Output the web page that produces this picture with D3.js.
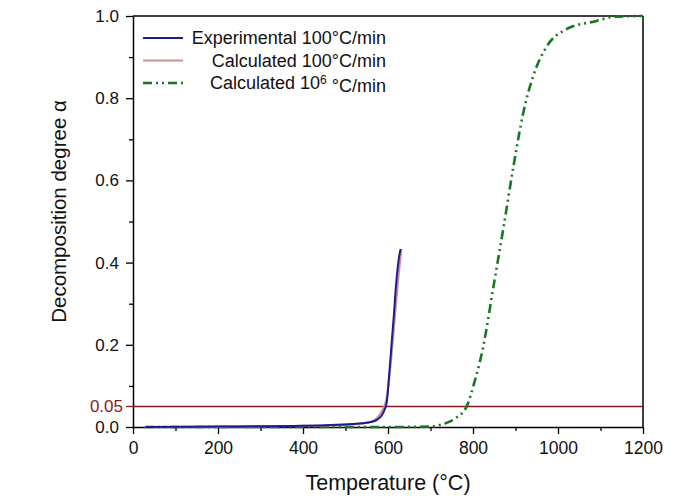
<!DOCTYPE html>
<html>
<head>
<meta charset="utf-8">
<script src="https://cdn.jsdelivr.net/npm/d3@7"></script>
<style>
  body { margin: 0; background: #fff; }
  svg text { font-family: "Liberation Sans", Arial, sans-serif; }
</style>
</head>
<body>
<div id="chart"></div>
<script>
// data
const expT     = [30, 200, 400, 500, 540, 560, 575, 585, 592, 597, 603, 609, 614, 618, 622, 625, 628, 630];
const expA     = [0, 0.001, 0.003, 0.006, 0.009, 0.012, 0.018, 0.028, 0.042, 0.06, 0.13, 0.21, 0.275, 0.333, 0.38, 0.406, 0.425, 0.433];
const calcT    = [30, 200, 400, 500, 540, 560, 572, 582, 590, 597, 605, 612, 618, 622, 626, 629, 631];
const calcA    = [0, 0.001, 0.003, 0.006, 0.009, 0.013, 0.02, 0.032, 0.048, 0.07, 0.14, 0.22, 0.29, 0.338, 0.382, 0.41, 0.433];
const fastT    = [28, 300, 600, 700, 722, 738, 760, 785, 805, 824, 848, 872, 895, 918, 942, 973, 1020, 1091, 1130, 1200];
const fastA    = [0, 0, 0, 0.001, 0.005, 0.01, 0.022, 0.05, 0.115, 0.195, 0.341, 0.487, 0.633, 0.763, 0.855, 0.925, 0.968, 0.988, 0.998, 1.0];
const threshold = 0.05;
const xTicks = [0, 200, 400, 600, 800, 1000, 1200];
const yTicks = [0, 0.2, 0.4, 0.6, 0.8, 1.0];

const seriesNames = ["Experimental 100\u00B0C/min", "Calculated 100\u00B0C/min", "Calculated 10"];

const W = 675, H = 496;
const margin = {top: 16, right: 32, bottom: 69, left: 133};
const width = W - margin.left - margin.right;
const height = H - margin.top - margin.bottom;

const svg = d3.select("#chart").append("svg")
  .attr("width", W).attr("height", H);
const g = svg.append("g")
  .attr("transform", `translate(${margin.left},${margin.top})`);

const x = d3.scaleLinear().domain([0, 1200]).range([0, width]);
const y = d3.scaleLinear().domain([0, 1]).range([height, 0]);

// minor ticks
const xMinor = d3.range(100, 1200, 200);
const yMinor = d3.range(0.1, 1, 0.2);

g.append("g").attr("transform", `translate(0,${height})`)
  .call(d3.axisBottom(x).tickValues(xMinor).tickSize(4).tickFormat(""))
  .call(a => a.select(".domain").remove())
  .selectAll("line").attr("stroke-width", 1.3);
g.append("g")
  .call(d3.axisLeft(y).tickValues(yMinor).tickSize(4).tickFormat(""))
  .call(a => a.select(".domain").remove())
  .selectAll("line").attr("stroke-width", 1.3);

const xAxis = g.append("g").attr("transform", `translate(0,${height})`)
  .call(d3.axisBottom(x).tickValues(xTicks).tickSize(7).tickSizeOuter(0).tickPadding(8).tickFormat(d3.format("d")));
xAxis.selectAll("text").attr("font-size", 17.5).attr("fill", "#111");
const yAxis = g.append("g")
  .call(d3.axisLeft(y).tickValues(yTicks).tickSize(7).tickSizeOuter(0).tickPadding(7).tickFormat(d3.format(".1f")));
yAxis.selectAll("text").attr("font-size", 17).attr("fill", "#111");
[xAxis, yAxis].forEach(a => {
  a.select(".domain").attr("stroke-width", 1.5);
  a.selectAll("line").attr("stroke-width", 1.3);
});

// frame top / right
g.append("line").attr("x1", 0).attr("x2", width).attr("y1", 0).attr("y2", 0)
  .attr("stroke", "#000").attr("stroke-width", 1.5);
g.append("line").attr("x1", width).attr("x2", width).attr("y1", 0).attr("y2", height)
  .attr("stroke", "#000").attr("stroke-width", 1.5);

// threshold line
const red = "#8b1a1a";
g.append("line")
  .attr("x1", x(0)).attr("x2", x(1200))
  .attr("y1", y(threshold)).attr("y2", y(threshold))
  .attr("stroke", red).attr("stroke-width", 1.4);
g.append("line")
  .attr("x1", -7).attr("x2", 0)
  .attr("y1", y(threshold)).attr("y2", y(threshold))
  .attr("stroke", red).attr("stroke-width", 1.3);
g.append("text")
  .attr("x", -10).attr("y", y(threshold)).attr("dy", "0.34em")
  .attr("text-anchor", "end").attr("font-size", 17).attr("fill", red)
  .text("0.05");

const line = d3.line().x(d => x(d[0])).y(d => y(d[1])).curve(d3.curveMonotoneX);

const series = [
  {T: fastT, A: fastA, color: "#17761f", width: 2.6, dash: "9,4,2,4,2,4"},
  {T: calcT, A: calcA, color: "#c99393", width: 2.2, dash: null},
  {T: expT,  A: expA,  color: "#1c1c8f", width: 2,   dash: null}
];
series.forEach(s => {
  g.append("path")
    .datum(s.T.map((t, i) => [t, s.A[i]]))
    .attr("fill", "none")
    .attr("stroke", s.color)
    .attr("stroke-width", s.width)
    .attr("stroke-dasharray", s.dash)
    .attr("d", line);
});

// legend
const legend = g.append("g").attr("transform", "translate(10,22)");
const legendItems = [
  {color: "#1c1c8f", dash: null, w: 2},
  {color: "#c99393", dash: null, w: 2.2},
  {color: "#17761f", dash: "9,4,2,4,2,4", w: 2.6}
];
legendItems.forEach((d, i) => {
  const yy = i * 22.5;
  legend.append("line")
    .attr("x1", 0).attr("x2", 40).attr("y1", yy).attr("y2", yy)
    .attr("stroke", d.color).attr("stroke-width", d.w)
    .attr("stroke-dasharray", d.dash);
  const t = legend.append("text")
    .attr("x", 243).attr("y", yy).attr("dy", "0.35em")
    .attr("text-anchor", "end").attr("font-size", 18).attr("fill", "#111");
  if (i < 2) {
    t.text(seriesNames[i]);
  } else {
    t.append("tspan").text(seriesNames[i]);
    t.append("tspan").attr("dy", "-0.45em").attr("font-size", 12).text("6");
    t.append("tspan").attr("dy", "0.45em").text(" \u00B0C/min");
  }
});

// axis titles
g.append("text")
  .attr("x", width / 2).attr("y", height + 63)
  .attr("text-anchor", "middle").attr("font-size", 21.5).attr("fill", "#111")
  .text("Temperature (\u00B0C)");
g.append("text")
  .attr("transform", `translate(-67,${height / 2 - 10}) rotate(-90)`)
  .attr("text-anchor", "middle").attr("font-size", 20.5).attr("fill", "#111")
  .text("Decomposition degree \u03B1");
</script>
</body>
</html>
